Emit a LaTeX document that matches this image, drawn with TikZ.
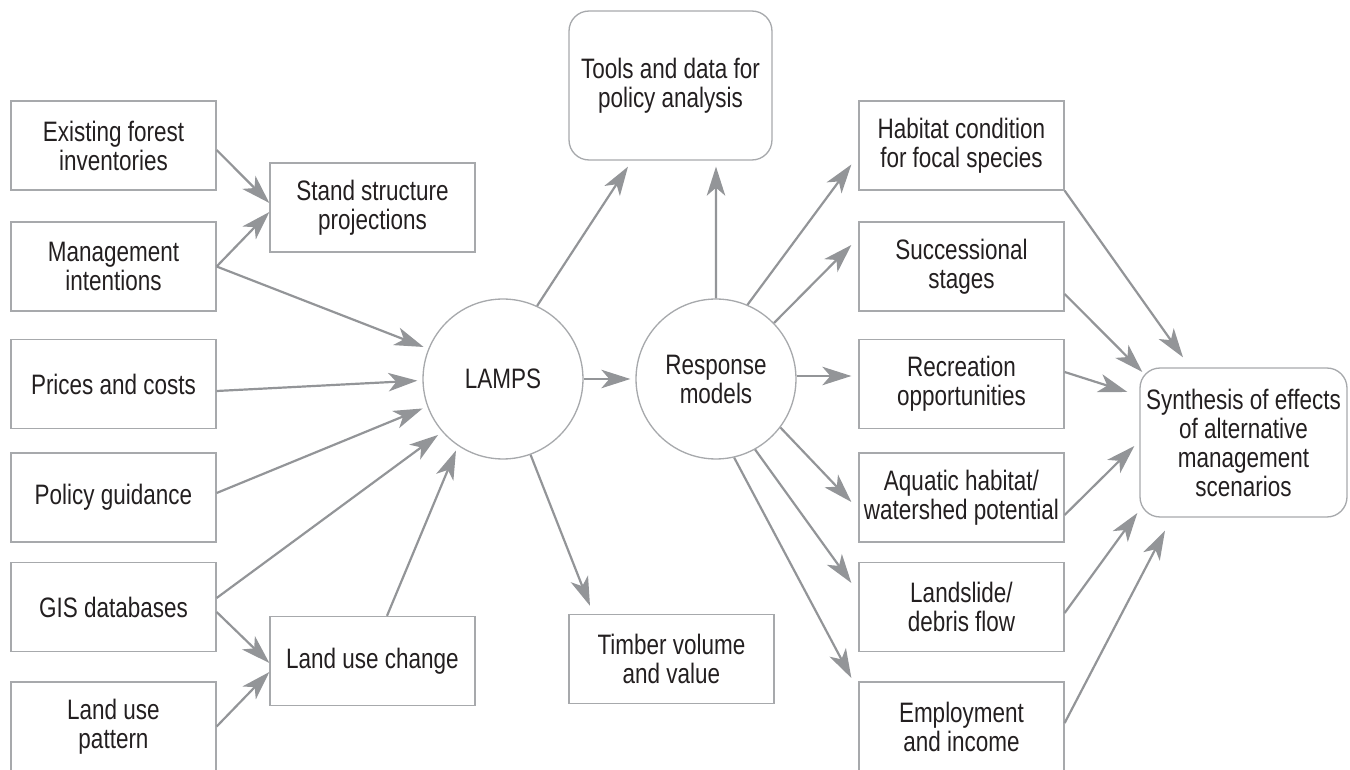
\documentclass[tikz,border=0pt]{standalone}
\usepackage{fontspec}
\setmainfont[FakeStretch=0.8]{Liberation Sans}
\usetikzlibrary{arrows.meta}
\definecolor{linegray}{HTML}{939598}
\definecolor{framegray}{HTML}{A7A9AC}
\definecolor{ink}{HTML}{231F20}

\begin{document}
\begin{tikzpicture}[x=0.02cm, y=-0.02cm,
    every node/.style={font=\fontsize{16}{16.5}\selectfont, text=ink, align=center},
    box/.style={draw=framegray, line width=0.75pt, minimum width=4.1cm, minimum height=1.78cm, inner sep=0pt},
    roundbox/.style={box, rounded corners=0.4cm, minimum height=2.98cm},
    hub/.style={circle, draw=framegray, line width=0.75pt, minimum size=3.2cm, inner sep=0pt},
    link/.style={draw=linegray, line width=1.25pt, -{Stealth[length=16.5pt, width=10.5pt, inset=4.5pt]}},
    tohub/.style={link, shorten >=0.1cm}]

    \useasboundingbox (0,0) rectangle (1350,770);

    % Inputs
    \node[box] (forest) at (113.5,145.5) {Existing forest\\inventories};
    \node[box] (intent) at (113.5,266.5) {Management\\intentions};
    \node[box] (prices) at (113.5,384) {Prices and costs};
    \node[box] (policy) at (113.5,497.5) {Policy guidance};
    \node[box] (gis) at (113.5,607) {GIS databases};
    \node[box] (pattern) at (113.5,726.5) {Land use\\pattern};

    \node[box] (stand) at (372.5,207.5) {Stand structure\\projections};
    \node[box] (landuse) at (372.5,661) {Land use change};

    % Models
    \node[hub] (lamps) at (503,379) {LAMPS};
    \node[hub] (response) at (716,379) {Response\\models};
    \node[roundbox, minimum width=4.06cm] (tools) at (670.5,85.5) {Tools and data for\\policy analysis};
    \node[box] (timber) at (671.5,659) {Timber volume\\and value};

    % Outputs
    \node[box] (habitat) at (961.5,145.5) {Habitat condition\\for focal species};
    \node[box] (succession) at (961.5,266.5) {Successional\\stages};
    \node[box] (recreation) at (961.5,384) {Recreation\\opportunities};
    \node[box] (aquatic) at (961.5,497.5) {Aquatic habitat/\\watershed potential};
    \node[box] (landslide) at (961.5,607) {Landslide/\\debris flow};
    \node[box] (employment) at (961.5,726.5) {Employment\\and income};
    \node[roundbox, minimum width=4.14cm] (synthesis) at (1243.5,442.5) {Synthesis of effects\\of alternative\\management\\scenarios};

    % Arrows into LAMPS
    \draw[link] ([shift={(0,4.5)}]forest.east) -- ([shift={(0,-4.5)}]stand.west);
    \draw[link] (intent.east) -- ([shift={(0,4.5)}]stand.west);
    \draw[tohub] (intent.east) -- (lamps.158);
    \draw[tohub] ([shift={(0,7)}]prices.east) -- (lamps.181);
    \draw[tohub] ([shift={(0,-4.5)}]policy.east) -- (lamps.200);
    \draw[tohub] ([shift={(0,-9)}]gis.east) -- (lamps.221);
    \draw[link] ([shift={(0,5)}]gis.east) -- ([shift={(0,2)}]landuse.west);
    \draw[link] (pattern.east) -- ([shift={(0,11)}]landuse.west);
    \draw[tohub] ([shift={(14.5,0)}]landuse.north) -- (lamps.236);

    % Between the models
    \draw[tohub] (lamps.east) -- (response.west);
    \draw[link] (lamps.65) -- ([shift={(-42.5,6)}]tools.south);
    \draw[link] (response.north) -- ([shift={(45.5,6)}]tools.south);
    \draw[link] (lamps.-70) -- ([shift={(-81.5,-8)}]timber.north);

    % Response models to effects
    \draw[link] (response.67) -- ([shift={(-7,19)}]habitat.west);
    \draw[link] (response.44) -- ([shift={(-7,-21.5)}]succession.west);
    \draw[link] ([shift={(0,-3)}]response.east) -- ([shift={(-7,-8)}]recreation.west);
    \draw[link] (response.-37) -- ([shift={(-7,4.5)}]aquatic.west);
    \draw[link] (response.-61) -- ([shift={(-7,-24)}]landslide.west);
    \draw[link] (response.-77) -- ([shift={(-7,-48.5)}]employment.west);

    % Effects to synthesis
    \draw[link] (habitat.south east) -- ([shift={(-60.5,-10)}]synthesis.north);
    \draw[link] ([shift={(0,27.5)}]succession.east) -- ([shift={(3,-70.5)}]synthesis.west);
    \draw[link] ([shift={(0,-12)}]recreation.east) -- ([shift={(-12,-50.5)}]synthesis.west);
    \draw[link] ([shift={(0,17.5)}]aquatic.east) -- ([shift={(-5,3.5)}]synthesis.west);
    \draw[link] ([shift={(0,6)}]landslide.east) -- ([shift={(-2,70.5)}]synthesis.west);
    \draw[link] ([shift={(0,-3.5)}]employment.east) -- ([shift={(-78.5,13)}]synthesis.south);

\end{tikzpicture}
\end{document}
